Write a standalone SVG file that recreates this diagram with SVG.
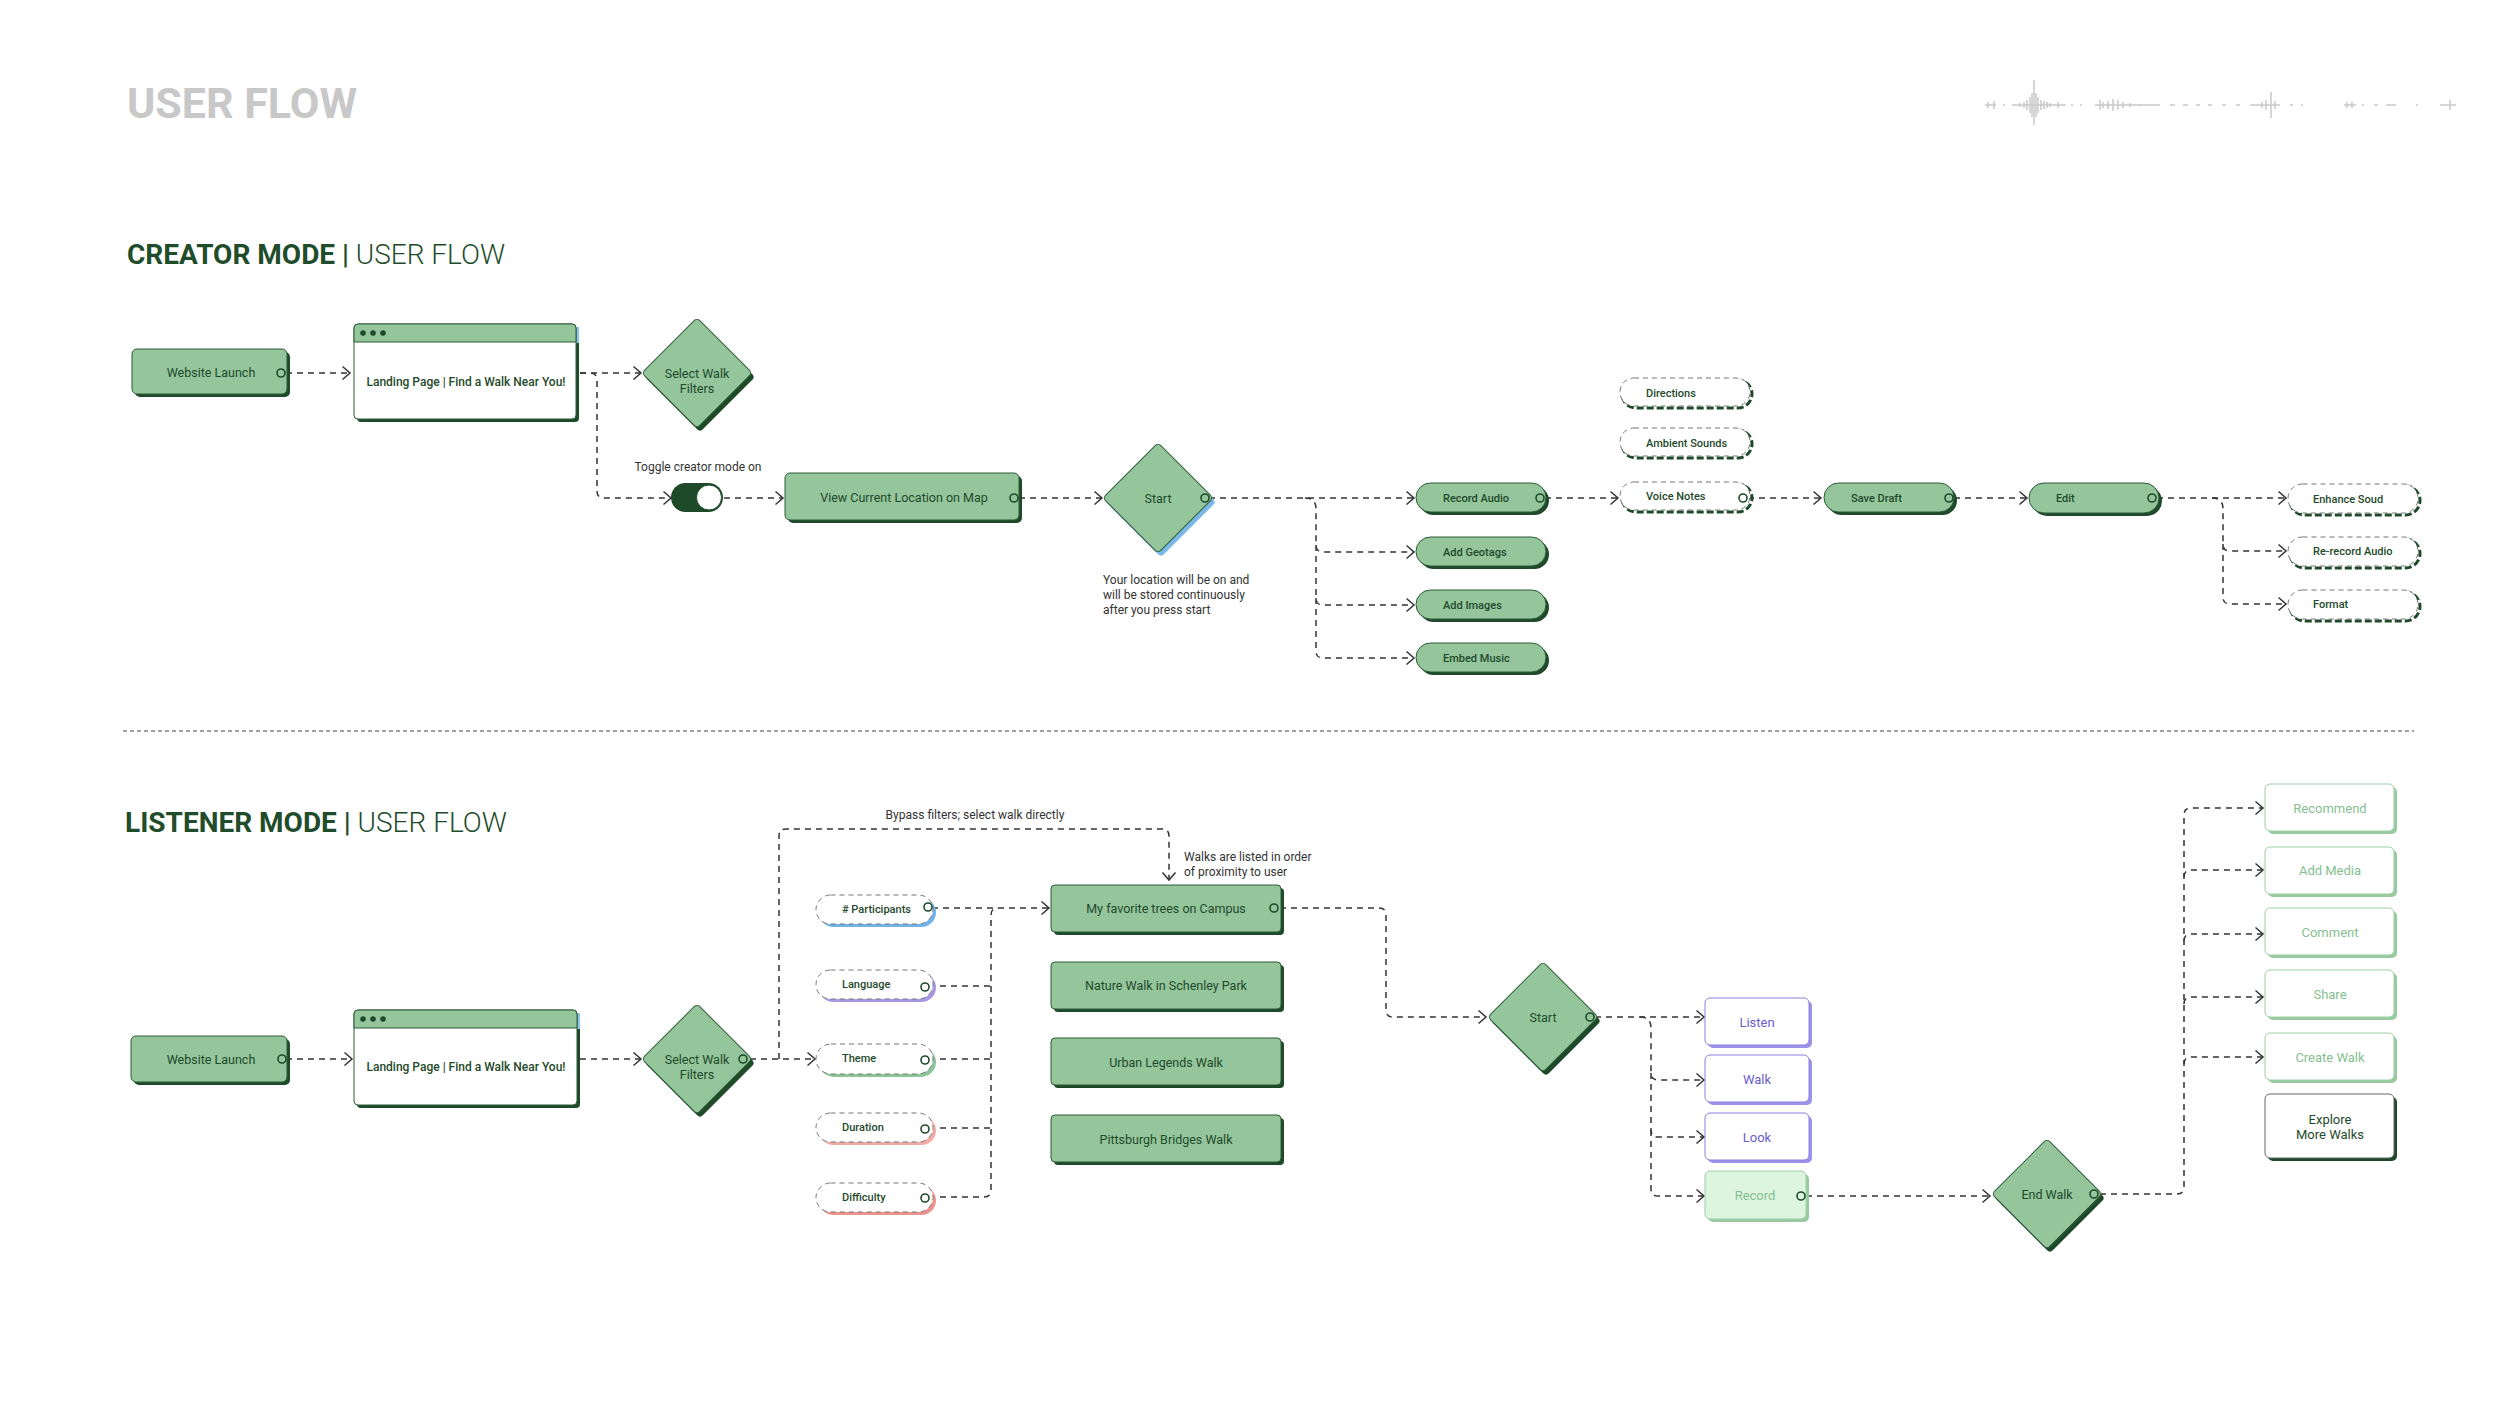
<svg xmlns="http://www.w3.org/2000/svg" width="2500" height="1406" viewBox="0 0 2500 1406">
<defs>
<style>
.t{font-family:Roboto,"Liberation Sans",sans-serif;fill:#1f4a2b;dominant-baseline:central}
.lbl{font-size:12.5px}
.sm{font-size:11px;font-weight:500}
.note{font-family:Roboto,"Liberation Sans",sans-serif;fill:#333;font-size:12px}
.n{fill:#94c59b;stroke:#2c5a37;stroke-width:1}
.sh{fill:#1e4a2a}
.wp{fill:#fff;stroke:#777;stroke-width:1;stroke-dasharray:5 4}
.wsh{fill:none;stroke:#1e4a2a;stroke-width:3;stroke-dasharray:7 3}
.port{fill:none;stroke:#1e4a2a;stroke-width:1.6}
.c{fill:none;stroke:#333;stroke-width:1.5;stroke-dasharray:6 5;marker-end:url(#arr)}
.cn{fill:none;stroke:#333;stroke-width:1.5;stroke-dasharray:6 5}
.pu{fill:#fff;stroke:#8b80e0;stroke-width:1}
.pus{fill:#9d92ea}
.put{fill:#6a5ed0}
.gr{fill:#fff;stroke:#9ccfa5;stroke-width:1}
.grs{fill:#99ca9f}
.grt{fill:#86bf90}
</style>
<marker id="arr" markerUnits="userSpaceOnUse" markerWidth="12" markerHeight="16" viewBox="0 0 12 16" refX="9" refY="8" orient="auto">
<path d="M1.5,1.5 L9,8 L1.5,14.5" fill="none" stroke="#333" stroke-width="1.5" stroke-dasharray="none"/>
</marker>
</defs>
<rect width="2500" height="1406" fill="#fff"/>

<!-- Titles -->
<text x="127" y="118" font-family="Roboto,'Liberation Sans',sans-serif" font-size="43" font-weight="700" fill="#c8c8c8">USER FLOW</text>
<text x="127" y="264" font-family="Roboto,'Liberation Sans',sans-serif" font-size="28" fill="#1f4d2b"><tspan font-weight="700">CREATOR MODE</tspan><tspan font-weight="500"> |</tspan><tspan font-weight="300"> USER FLOW</tspan></text>
<text x="125" y="832" font-family="Roboto,'Liberation Sans',sans-serif" font-size="28" fill="#1f4d2b"><tspan font-weight="700">LISTENER MODE</tspan><tspan font-weight="500"> |</tspan><tspan font-weight="300"> USER FLOW</tspan></text>

<!-- waveform -->
<g id="waveform" stroke="#c9c9c9" stroke-width="1.5" fill="none">
<path d="M1985,105 H1996 M1988,102 V108 M1994,101 V109 M2003,105 H2005 M2012,105 H2066 M2020,103 V107 M2024,102 V108 M2027,100 V110 M2030,97 V113 M2032,93 V117 M2034,80 V125 M2036,93 V117 M2038,97 V113 M2041,100 V110 M2044,101 V109 M2047,102 V108 M2050,103 V107 M2058,102 V108 M2071,105 H2073 M2080,105 H2082"/>
<path d="M2095,105 H2160 M2100,100 V110 M2103,102 V108 M2108,101 V109 M2113,99 V111 M2118,100 V110 M2123,102 V108 M2130,103 V107 M2140,104 V106 M2170,105 H2175 M2183,105 H2188 M2196,105 H2200 M2208,105 H2212 M2222,105 H2226 M2236,105 H2240 M2250,105 H2280 M2262,102 V108 M2266,100 V110 M2271,92 V118 M2275,101 V109 M2290,105 H2293 M2302,104 V106"/>
<path d="M2344,105 H2356 M2347,102 V108 M2352,102 V108 M2362,105 H2364 M2374,105 H2378 M2386,105 H2396 M2416,105 H2418 M2440,105 H2456 M2450,100 V110"/>
</g>

<!-- separator -->
<line x1="123" y1="731" x2="2414" y2="731" stroke="#a0a0a0" stroke-width="2" stroke-dasharray="4 3"/>

<!-- Connectors -->
<g id="connectors">
<!-- creator -->
<path class="c" d="M286,373 H350"/>
<path class="c" d="M580,373 H641"/>
<path class="c" d="M580,373 H590 Q597,373 597,380 V491 Q597,498 604,498 H671"/>
<path class="c" d="M724,498 H783"/>
<path class="c" d="M1019,498 H1102"/>
<path class="c" d="M1209,498 H1414"/>
<path class="c" d="M1305,498 Q1316,498 1316,509 V545 Q1316,552 1323,552 H1414"/>
<path class="c" d="M1316,545 V598 Q1316,605 1323,605 H1414"/>
<path class="c" d="M1316,598 V651 Q1316,658 1323,658 H1414"/>
<path class="c" d="M1545,498 H1618"/>
<path class="c" d="M1748,498 H1821"/>
<path class="c" d="M1954,498 H2027"/>
<path class="c" d="M2157,498 H2286"/>
<path class="c" d="M2212,498 Q2223,498 2223,509 V544 Q2223,551 2230,551 H2286"/>
<path class="c" d="M2223,544 V597 Q2223,604 2230,604 H2286"/>
<!-- listener -->
<path class="c" d="M286,1059 H352"/>
<path class="c" d="M580,1059 H641"/>
<path class="c" d="M750,1059 H815"/>
<path class="c" d="M779,1059 V836 Q779,829 786,829 H1162 Q1169,829 1169,836 V880"/>
<path class="c" d="M932,908 H1049"/>
<path class="cn" d="M929,986 H991 M929,1059 H991 M929,1128 H991"/>
<path class="cn" d="M929,1197 H984 Q991,1197 991,1190 V915 Q991,908 998,908"/>
<path class="c" d="M1280,908 H1379 Q1386,908 1386,915 V1010 Q1386,1017 1393,1017 H1486"/>
<path class="c" d="M1595,1017 H1704"/>
<path class="c" d="M1640,1017 Q1651,1017 1651,1028 V1073 Q1651,1080 1658,1080 H1704"/>
<path class="c" d="M1651,1073 V1130 Q1651,1137 1658,1137 H1704"/>
<path class="c" d="M1651,1130 V1189 Q1651,1196 1658,1196 H1704"/>
<path class="c" d="M1806,1196 H1990"/>
<path class="c" d="M2100,1194 H2177 Q2184,1194 2184,1187 V815 Q2184,808 2191,808 H2263"/>
<path class="c" d="M2184,877 Q2184,870 2191,870 H2263"/>
<path class="c" d="M2184,941 Q2184,934 2191,934 H2263"/>
<path class="c" d="M2184,1004 Q2184,997 2191,997 H2263"/>
<path class="c" d="M2184,1064 Q2184,1057 2191,1057 H2263"/>
</g>

<!-- CREATOR NODES -->
<g id="c-website-launch">
<rect class="sh" x="135" y="352" width="155" height="45" rx="5"/>
<rect class="n" x="132" y="349" width="155" height="45" rx="5"/>
<text class="t lbl" x="211" y="372" text-anchor="middle">Website Launch</text>
<circle class="port" cx="281" cy="373" r="4"/>
</g>

<g id="c-landing-page">
<rect class="sh" x="357" y="327" width="222" height="95" rx="4"/>
<rect x="576" y="327" width="3" height="16" fill="#8cc4ec"/>
<rect x="354" y="324" width="222" height="95" rx="4" fill="#fff" stroke="#2c5a37" stroke-width="1"/>
<path class="n" d="M354,342 V328 Q354,324 358,324 H572 Q576,324 576,328 V342 Z"/>
<circle cx="363" cy="333" r="2.8" fill="#1e4a2a"/>
<circle cx="373" cy="333" r="2.8" fill="#1e4a2a"/>
<circle cx="383" cy="333" r="2.8" fill="#1e4a2a"/>
<text class="t" x="466" y="382" text-anchor="middle" font-size="12" font-weight="500" fill="#1f3526">Landing Page | Find a Walk Near You!</text>
</g>

<g id="c-select-filters" transform="translate(697,373)">
<rect class="sh" x="-39" y="-39" width="78" height="78" rx="4" transform="translate(3,4) rotate(45)"/>
<rect class="n" x="-39" y="-39" width="78" height="78" rx="4" transform="rotate(45)"/>
<text class="t lbl" x="0" y="0" text-anchor="middle">Select Walk</text>
<text class="t lbl" x="0" y="15" text-anchor="middle">Filters</text>
</g>

<g id="c-toggle">
<text class="note" x="698" y="471" text-anchor="middle">Toggle creator mode on</text>
<rect x="671" y="483" width="52" height="29" rx="14.5" fill="#1e4a2a"/>
<circle cx="709" cy="497.5" r="12.5" fill="#fff" stroke="#1e4a2a" stroke-width="1"/>
</g>

<g id="c-view-location">
<rect class="sh" x="788" y="476" width="234" height="47" rx="5"/>
<rect class="n" x="785" y="473" width="234" height="47" rx="5"/>
<text class="t lbl" x="904" y="497" text-anchor="middle">View Current Location on Map</text>
<circle class="port" cx="1014" cy="498" r="4"/>
</g>

<g id="c-start" transform="translate(1158,498)">
<rect x="-39" y="-39" width="78" height="78" rx="4" fill="#7ab8ea" transform="translate(3,4) rotate(45)"/>
<rect class="n" x="-39" y="-39" width="78" height="78" rx="4" transform="rotate(45)"/>
<text class="t lbl" x="0" y="0" text-anchor="middle">Start</text>
<circle class="port" cx="47" cy="0" r="4"/>
</g>
<text class="note" x="1103" y="584">Your location will be on and</text>
<text class="note" x="1103" y="599">will be stored continuously</text>
<text class="note" x="1103" y="614">after you press start</text>

<g id="c-record-audio">
<rect class="sh" x="1419" y="486" width="130" height="29" rx="14.5"/>
<rect class="n" x="1416" y="483" width="130" height="29" rx="14.5"/>
<text class="t sm" x="1443" y="498">Record Audio</text>
<circle class="port" cx="1540" cy="498" r="4"/>
</g>
<g id="c-add-geotags">
<rect class="sh" x="1419" y="540" width="130" height="29" rx="14.5"/>
<rect class="n" x="1416" y="537" width="130" height="29" rx="14.5"/>
<text class="t sm" x="1443" y="552">Add Geotags</text>
</g>
<g id="c-add-images">
<rect class="sh" x="1419" y="593" width="130" height="29" rx="14.5"/>
<rect class="n" x="1416" y="590" width="130" height="29" rx="14.5"/>
<text class="t sm" x="1443" y="605">Add Images</text>
</g>
<g id="c-embed-music">
<rect class="sh" x="1419" y="646" width="130" height="29" rx="14.5"/>
<rect class="n" x="1416" y="643" width="130" height="29" rx="14.5"/>
<text class="t sm" x="1443" y="658">Embed Music</text>
</g>

<g id="c-directions">
<rect class="wsh" x="1622" y="380" width="130" height="28" rx="14"/>
<rect class="wp" x="1620" y="378" width="130" height="28" rx="14"/>
<text class="t sm" x="1646" y="393">Directions</text>
</g>
<g id="c-ambient">
<rect class="wsh" x="1622" y="430" width="130" height="28" rx="14"/>
<rect class="wp" x="1620" y="428" width="130" height="28" rx="14"/>
<text class="t sm" x="1646" y="443">Ambient Sounds</text>
</g>
<g id="c-voice-notes">
<rect class="wsh" x="1622" y="484" width="130" height="28" rx="14"/>
<rect class="wp" x="1620" y="482" width="130" height="28" rx="14"/>
<text class="t sm" x="1646" y="496">Voice Notes</text>
<circle class="port" cx="1743" cy="498" r="4"/>
</g>

<g id="c-save-draft">
<rect class="sh" x="1827" y="486" width="130" height="29" rx="14.5"/>
<rect class="n" x="1824" y="483" width="130" height="29" rx="14.5"/>
<text class="t sm" x="1851" y="498">Save Draft</text>
<circle class="port" cx="1949" cy="498" r="4"/>
</g>
<g id="c-edit">
<rect class="sh" x="2032" y="486" width="130" height="30" rx="15"/>
<rect class="n" x="2029" y="483" width="130" height="30" rx="15"/>
<text class="t sm" x="2056" y="498">Edit</text>
<circle class="port" cx="2152" cy="498" r="4"/>
</g>

<g id="c-enhance">
<rect class="wsh" x="2290" y="486" width="130" height="29" rx="14.5"/>
<rect class="wp" x="2288" y="484" width="130" height="29" rx="14.5"/>
<text class="t sm" x="2313" y="499">Enhance Soud</text>
</g>
<g id="c-rerecord">
<rect class="wsh" x="2290" y="539" width="130" height="29" rx="14.5"/>
<rect class="wp" x="2288" y="537" width="130" height="29" rx="14.5"/>
<text class="t sm" x="2313" y="551">Re-record Audio</text>
</g>
<g id="c-format">
<rect class="wsh" x="2290" y="592" width="130" height="29" rx="14.5"/>
<rect class="wp" x="2288" y="590" width="130" height="29" rx="14.5"/>
<text class="t sm" x="2313" y="604">Format</text>
</g>

<!-- LISTENER NODES -->
<g id="l-website-launch">
<rect class="sh" x="134" y="1039" width="156" height="46" rx="5"/>
<rect class="n" x="131" y="1036" width="156" height="46" rx="5"/>
<text class="t lbl" x="211" y="1059" text-anchor="middle">Website Launch</text>
<circle class="port" cx="282" cy="1059" r="4"/>
</g>

<g id="l-landing-page">
<rect class="sh" x="357" y="1013" width="223" height="95" rx="4"/>
<rect x="577" y="1013" width="3" height="16" fill="#8cc4ec"/>
<rect x="354" y="1010" width="223" height="95" rx="4" fill="#fff" stroke="#2c5a37" stroke-width="1"/>
<path class="n" d="M354,1028 V1014 Q354,1010 358,1010 H573 Q577,1010 577,1014 V1028 Z"/>
<circle cx="363" cy="1019" r="2.8" fill="#1e4a2a"/>
<circle cx="373" cy="1019" r="2.8" fill="#1e4a2a"/>
<circle cx="383" cy="1019" r="2.8" fill="#1e4a2a"/>
<text class="t" x="466" y="1067" text-anchor="middle" font-size="12" font-weight="500" fill="#1f3526">Landing Page | Find a Walk Near You!</text>
</g>

<g id="l-select-filters" transform="translate(697,1059)">
<rect class="sh" x="-39" y="-39" width="78" height="78" rx="4" transform="translate(3,4) rotate(45)"/>
<rect class="n" x="-39" y="-39" width="78" height="78" rx="4" transform="rotate(45)"/>
<text class="t lbl" x="0" y="0" text-anchor="middle">Select Walk</text>
<text class="t lbl" x="0" y="15" text-anchor="middle">Filters</text>
<circle class="port" cx="46" cy="0" r="4"/>
</g>

<text class="note" x="975" y="819" text-anchor="middle" font-size="11.5">Bypass filters; select walk directly</text>
<text class="note" x="1184" y="861">Walks are listed in order</text>
<text class="note" x="1184" y="876">of proximity to user</text>

<g id="l-participants">
<rect x="819" y="898" width="117" height="29" rx="14.5" fill="#6fb3ea"/>
<rect class="wp" x="816" y="895" width="117" height="29" rx="14.5"/>
<text class="t sm" x="842" y="909" fill="#1f3526">#&#160;Participants</text>
<circle class="port" cx="928" cy="907" r="4"/>
</g>
<g id="l-language">
<rect x="819" y="973" width="117" height="29" rx="14.5" fill="#a898e4"/>
<rect class="wp" x="816" y="970" width="117" height="29" rx="14.5"/>
<text class="t sm" x="842" y="984" fill="#1f3526">Language</text>
<circle class="port" cx="925" cy="987" r="4"/>
</g>
<g id="l-theme">
<rect x="819" y="1047" width="117" height="30" rx="15" fill="#8cc59a"/>
<rect class="wp" x="816" y="1044" width="117" height="30" rx="15"/>
<text class="t sm" x="842" y="1058" fill="#1f3526">Theme</text>
<circle class="port" cx="925" cy="1060" r="4"/>
</g>
<g id="l-duration">
<rect x="819" y="1116" width="117" height="29" rx="14.5" fill="#f2aaa5"/>
<rect class="wp" x="816" y="1113" width="117" height="29" rx="14.5"/>
<text class="t sm" x="842" y="1127" fill="#1f3526">Duration</text>
<circle class="port" cx="925" cy="1129" r="4"/>
</g>
<g id="l-difficulty">
<rect x="819" y="1186" width="117" height="29" rx="14.5" fill="#ee9290"/>
<rect class="wp" x="816" y="1183" width="117" height="29" rx="14.5"/>
<text class="t sm" x="842" y="1197" fill="#1f3526">Difficulty</text>
<circle class="port" cx="925" cy="1198" r="4"/>
</g>

<g id="l-walk-trees">
<rect class="sh" x="1054" y="888" width="230" height="47" rx="4"/>
<rect class="n" x="1051" y="885" width="230" height="47" rx="4"/>
<text class="t lbl" x="1166" y="908" text-anchor="middle">My favorite trees on Campus</text>
<circle class="port" cx="1274" cy="908" r="4"/>
</g>
<g id="l-walk-schenley">
<rect class="sh" x="1054" y="965" width="230" height="47" rx="4"/>
<rect class="n" x="1051" y="962" width="230" height="47" rx="4"/>
<text class="t lbl" x="1166" y="985" text-anchor="middle">Nature Walk in Schenley Park</text>
</g>
<g id="l-walk-legends">
<rect class="sh" x="1054" y="1041" width="230" height="47" rx="4"/>
<rect class="n" x="1051" y="1038" width="230" height="47" rx="4"/>
<text class="t lbl" x="1166" y="1062" text-anchor="middle">Urban Legends Walk</text>
</g>
<g id="l-walk-bridges">
<rect class="sh" x="1054" y="1118" width="230" height="47" rx="4"/>
<rect class="n" x="1051" y="1115" width="230" height="47" rx="4"/>
<text class="t lbl" x="1166" y="1139" text-anchor="middle">Pittsburgh Bridges Walk</text>
</g>

<g id="l-start" transform="translate(1543,1017)">
<rect class="sh" x="-39" y="-39" width="78" height="78" rx="4" transform="translate(3,4) rotate(45)"/>
<rect class="n" x="-39" y="-39" width="78" height="78" rx="4" transform="rotate(45)"/>
<text class="t lbl" x="0" y="0" text-anchor="middle">Start</text>
<circle class="port" cx="47" cy="0" r="4"/>
</g>

<g id="l-listen">
<rect class="pus" x="1708" y="1001" width="104" height="47" rx="5"/>
<rect class="pu" x="1705" y="998" width="104" height="47" rx="5" fill="#eeedfc"/>
<text class="t put" x="1757" y="1022" text-anchor="middle" font-size="13">Listen</text>
</g>
<g id="l-walk">
<rect class="pus" x="1708" y="1058" width="104" height="47" rx="5"/>
<rect class="pu" x="1705" y="1055" width="104" height="47" rx="5"/>
<text class="t put" x="1757" y="1079" text-anchor="middle" font-size="13">Walk</text>
</g>
<g id="l-look">
<rect class="pus" x="1708" y="1116" width="104" height="47" rx="5"/>
<rect class="pu" x="1705" y="1113" width="104" height="47" rx="5"/>
<text class="t put" x="1757" y="1137" text-anchor="middle" font-size="13">Look</text>
</g>
<g id="l-record">
<rect class="grs" x="1708" y="1174" width="101" height="48" rx="5"/>
<rect x="1705" y="1171" width="101" height="48" rx="5" fill="#ddf5df" stroke="#9ccfa5" stroke-width="1"/>
<text class="t grt" x="1755" y="1195" text-anchor="middle" font-size="13">Record</text>
<circle class="port" cx="1801" cy="1196" r="4"/>
</g>

<g id="l-end-walk" transform="translate(2047,1194)">
<rect class="sh" x="-39" y="-39" width="78" height="78" rx="4" transform="translate(3,4) rotate(45)"/>
<rect class="n" x="-39" y="-39" width="78" height="78" rx="4" transform="rotate(45)"/>
<text class="t lbl" x="0" y="0" text-anchor="middle">End Walk</text>
<circle class="port" cx="47" cy="0" r="4"/>
</g>

<g id="l-recommend">
<rect class="grs" x="2268" y="787" width="129" height="47" rx="5"/>
<rect class="gr" x="2265" y="784" width="129" height="47" rx="5"/>
<text class="t grt" x="2330" y="808" text-anchor="middle" font-size="13">Recommend</text>
</g>
<g id="l-add-media">
<rect class="grs" x="2268" y="850" width="129" height="47" rx="5"/>
<rect class="gr" x="2265" y="847" width="129" height="47" rx="5"/>
<text class="t grt" x="2330" y="870" text-anchor="middle" font-size="13">Add Media</text>
</g>
<g id="l-comment">
<rect class="grs" x="2268" y="911" width="129" height="47" rx="5"/>
<rect class="gr" x="2265" y="908" width="129" height="47" rx="5"/>
<text class="t grt" x="2330" y="932" text-anchor="middle" font-size="13">Comment</text>
</g>
<g id="l-share">
<rect class="grs" x="2268" y="973" width="129" height="47" rx="5"/>
<rect class="gr" x="2265" y="970" width="129" height="47" rx="5"/>
<text class="t grt" x="2330" y="994" text-anchor="middle" font-size="13">Share</text>
</g>
<g id="l-create-walk">
<rect class="grs" x="2268" y="1036" width="129" height="47" rx="5"/>
<rect class="gr" x="2265" y="1033" width="129" height="47" rx="5"/>
<text class="t grt" x="2330" y="1057" text-anchor="middle" font-size="13">Create Walk</text>
</g>
<g id="l-explore">
<rect class="sh" x="2268" y="1097" width="129" height="64" rx="5"/>
<rect x="2265" y="1094" width="129" height="64" rx="5" fill="#fff" stroke="#666" stroke-width="1"/>
<text class="t" x="2330" y="1119" text-anchor="middle" font-size="13" fill="#333">Explore</text>
<text class="t" x="2330" y="1134" text-anchor="middle" font-size="13" fill="#333">More Walks</text>
</g>
</svg>
